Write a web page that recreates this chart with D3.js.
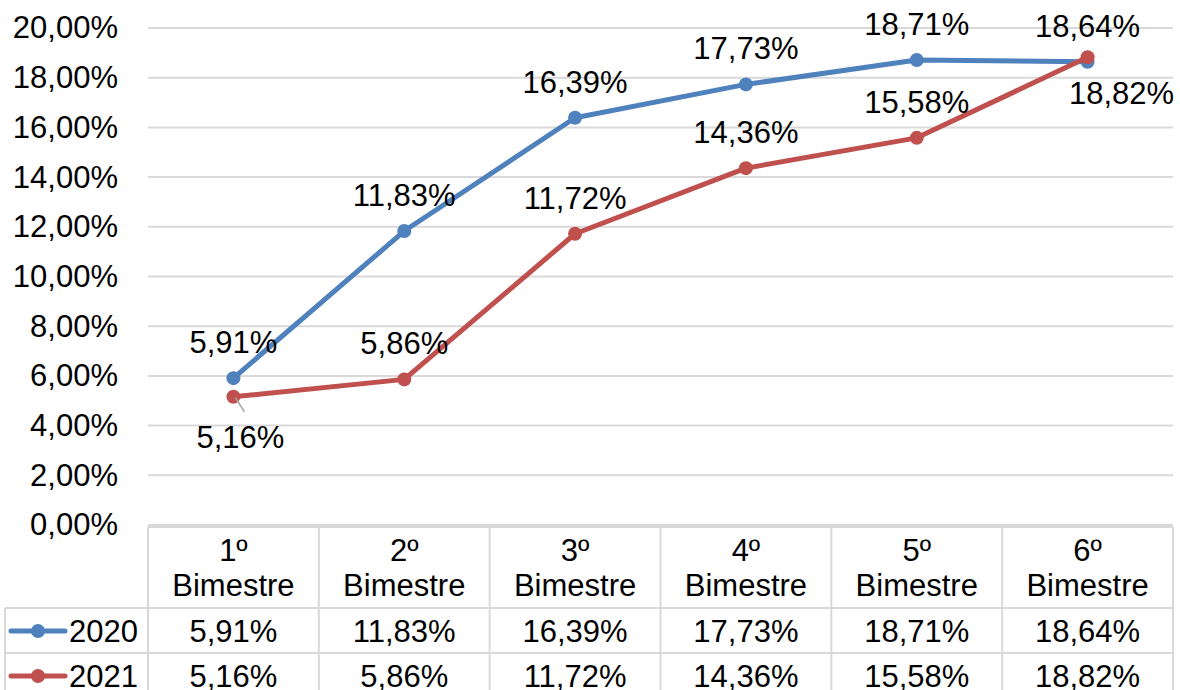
<!DOCTYPE html>
<html>
<head>
<meta charset="utf-8">
<script src="https://cdn.jsdelivr.net/npm/d3@7"></script>
<style>
body { margin:0; background:#fff; }
text { font-family:"Liberation Sans", Arial, sans-serif; fill:#000; }
</style>
</head>
<body>
<svg id="chart" width="1180" height="690"></svg>
<script>
var categories = ["1º Bimestre", "2º Bimestre", "3º Bimestre", "4º Bimestre", "5º Bimestre", "6º Bimestre"];
var series = ["2020", "2021"];
var values2020 = [5.91, 11.83, 16.39, 17.73, 18.71, 18.64];
var values2021 = [5.16, 5.86, 11.72, 14.36, 15.58, 18.82];
var yTicks = [0, 2, 4, 6, 8, 10, 12, 14, 16, 18, 20];
// where each data label sits: t = above, b = below, br = below right
var labels2020 = ["t", "t", "t", "t", "t", "t"];
var labels2021 = ["b", "t", "t", "t", "t", "br"];

var colors = ["#4F81BD", "#C0504D"];
var all = [values2020, values2021];
var place = [labels2020, labels2021];

var svg = d3.select("#chart");
var fs = 31;

var x = d3.scaleBand().domain(categories).range([148, 1173]);
var y = d3.scaleLinear().domain([0, 20]).range([525, 28]);

function fmt(v) { return v.toFixed(2).replace(".", ",") + "%"; }

// grid
svg.append("g").selectAll("line").data(yTicks).enter().append("line")
	.attr("x1", 148).attr("x2", 1173)
	.attr("y1", function(d){ return y(d); }).attr("y2", function(d){ return y(d); })
	.style("stroke", "#d9d9d9").style("stroke-width", 2);

// y axis labels
var yAxis = d3.axisLeft(y).tickValues(yTicks).tickSize(0).tickPadding(30)
	.tickFormat(function(d){ return d.toFixed(2).replace(".", ",") + "%"; });
var ya = svg.append("g").attr("transform", "translate(148,0)").call(yAxis);
ya.select(".domain").remove();
ya.selectAll("text").style("font-size", fs + "px").style("font-family", "Liberation Sans, Arial, sans-serif").attr("fill", "#000");

// table
var tTop = 527, hdrB = 608, r1B = 653, r2B = 700;
var tg = svg.append("g").style("stroke", "#d9d9d9").style("stroke-width", 2);
tg.append("line").attr("x1", 148).attr("x2", 1173).attr("y1", tTop).attr("y2", tTop);
tg.append("line").attr("x1", 5).attr("x2", 1173).attr("y1", hdrB).attr("y2", hdrB);
tg.append("line").attr("x1", 5).attr("x2", 1173).attr("y1", r1B).attr("y2", r1B);
tg.append("line").attr("x1", 5).attr("x2", 5).attr("y1", hdrB).attr("y2", r2B);
tg.selectAll(".vl").data(categories).enter().append("line")
	.attr("x1", function(d){ return x(d); }).attr("x2", function(d){ return x(d); })
	.attr("y1", tTop).attr("y2", r2B);
tg.append("line").attr("x1", 1173).attr("x2", 1173).attr("y1", tTop).attr("y2", r2B);

// header text
categories.forEach(function(c){
	var parts = c.split(" ");
	var cx = x(c) + x.bandwidth()/2;
	svg.append("text").attr("x", cx).attr("y", 561).attr("text-anchor", "middle")
		.style("font-size", fs + "px").text(parts[0]);
	svg.append("text").attr("x", cx).attr("y", 596).attr("text-anchor", "middle")
		.style("font-size", fs + "px").text(parts[1]);
});

// table rows
var rowY = [642, 687], rowMid = [631, 676];
all.forEach(function(vals, s){
	var lg = svg.append("g");
	lg.append("line").attr("x1", 11).attr("x2", 65).attr("y1", rowMid[s]).attr("y2", rowMid[s])
		.style("stroke", colors[s]).style("stroke-width", 5).style("stroke-linecap", "round");
	lg.append("circle").attr("cx", 38).attr("cy", rowMid[s]).attr("r", 7).attr("fill", colors[s]);
	lg.append("text").attr("x", 69).attr("y", rowY[s]).style("font-size", fs + "px").text(series[s]);
	vals.forEach(function(v, i){
		svg.append("text").attr("x", x(categories[i]) + x.bandwidth()/2).attr("y", rowY[s])
			.attr("text-anchor", "middle").style("font-size", fs + "px").text(fmt(v));
	});
});

// lines
var line = d3.line()
	.x(function(d, i){ return x(categories[i]) + x.bandwidth()/2; })
	.y(function(d){ return y(d); });

all.forEach(function(vals, s){
	svg.append("path").datum(vals).attr("d", line)
		.style("fill", "none").style("stroke", colors[s]).style("stroke-width", 5)
		.style("stroke-linejoin", "round");
	svg.append("g").selectAll("circle").data(vals).enter().append("circle")
		.attr("cx", function(d, i){ return x(categories[i]) + x.bandwidth()/2; })
		.attr("cy", function(d){ return y(d); })
		.attr("r", 7).attr("fill", colors[s]);
});

// leader line for 5,16%
var lx = x(categories[0]) + x.bandwidth()/2, ly = y(values2021[0]);
svg.append("line").attr("x1", lx + 2).attr("y1", ly + 1).attr("x2", lx + 11).attr("y2", ly + 15)
	.style("stroke", "#a6a6a6").style("stroke-width", 1.5);

// data labels
all.forEach(function(vals, s){
	vals.forEach(function(v, i){
		var cx = x(categories[i]) + x.bandwidth()/2, cy = y(v);
		var p = place[s][i], dx = 0, dy = -36;
		if (p == "b") { dx = 7; dy = 40; }
		if (p == "br") { dx = 34; dy = 36; }
		svg.append("text").attr("x", cx + dx).attr("y", cy + dy + 11)
			.attr("text-anchor", "middle").style("font-size", fs + "px").text(fmt(v));
	});
});
</script>
</body>
</html>
